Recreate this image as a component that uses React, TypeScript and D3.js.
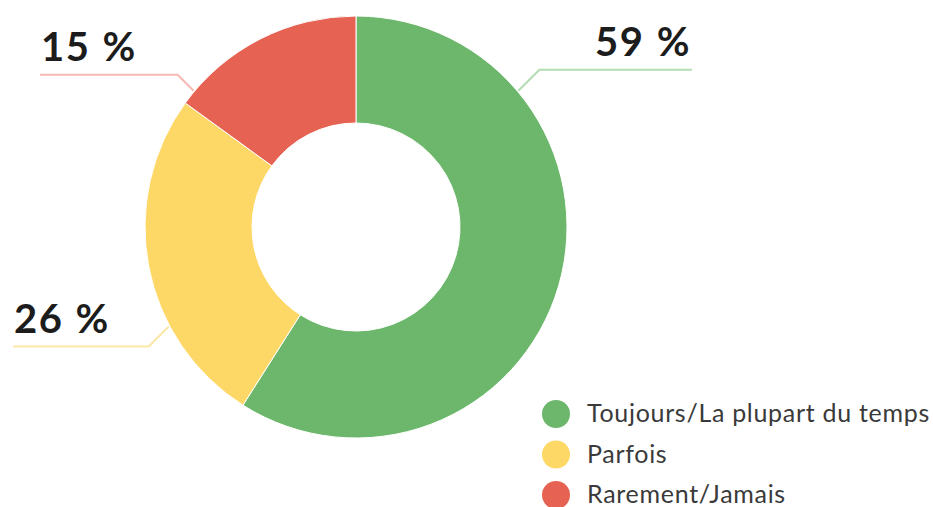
import React, { useRef, useEffect } from 'react';
import * as d3 from 'd3';

const categories = ['Toujours/La plupart du temps', 'Parfois', 'Rarement/Jamais'];
const values = [59, 26, 15];
const colors = ['#6cb76c', '#fdd867', '#e66353'];
const lineColors = ['#b3ddb3', '#fde7a6', '#f6b9b3'];
// angle (deg, clockwise from top) where each leader line touches the ring
const leaderAngles = [50, 242, 310];
const leaderEndX = [692, 13, 40];
const leaderDiag = [21, 20, 16];

const App = () => {
    const ref = useRef<SVGSVGElement>(null);

    useEffect(() => {
        const svg = d3.select(ref.current);
        svg.selectAll('*').remove();

        const width = 933, height = 507;
        const cx = 356, cy = 227;
        const outer = 211, inner = 104;

        const g = svg.append('g').attr('transform', `translate(${cx},${cy})`);

        const pie = d3.pie<number>().sort(null).value(d => d);
        const arc = d3.arc<d3.PieArcDatum<number>>().innerRadius(inner).outerRadius(outer);

        g.selectAll('path.slice')
            .data(pie(values))
            .enter()
            .append('path')
            .attr('class', 'slice')
            .attr('d', arc)
            .attr('fill', (d, i) => colors[i])
            .attr('stroke', '#fff')
            .attr('stroke-width', 1);

        // leader lines + labels
        values.forEach((v, i) => {
            const a = leaderAngles[i] * Math.PI / 180;
            const sx = Math.sin(a) * (outer + 1);
            const sy = -Math.cos(a) * (outer + 1);
            const dirX = Math.sin(a) > 0 ? 1 : -1;
            const dirY = Math.cos(a) > 0 ? -1 : 1;
            const ex = sx + dirX * leaderDiag[i];
            const ey = sy + dirY * leaderDiag[i];
            const endX = leaderEndX[i] - cx;

            g.append('path')
                .attr('d', `M${sx},${sy}L${ex},${ey}L${endX},${ey}`)
                .attr('fill', 'none')
                .attr('stroke', lineColors[i])
                .attr('stroke-width', 2);

            g.append('text')
                .attr('x', endX + (dirX > 0 ? -1 : 1))
                .attr('y', ey - 14)
                .attr('text-anchor', dirX > 0 ? 'end' : 'start')
                .style('font-family', 'Lato, sans-serif')
                .style('font-weight', 'bold')
                .style('font-size', '40px')
                .style('letter-spacing', '1.5px')
                .style('word-spacing', '1px')
                .attr('fill', '#1c1c1c')
                .text(`${v} %`);
        });

        // legend
        const legend = svg.append('g').attr('transform', 'translate(556,414)');
        const y = d3.scalePoint<string>().domain(categories).range([0, 81]);

        legend.selectAll('circle')
            .data(categories)
            .enter()
            .append('circle')
            .attr('cx', 0)
            .attr('cy', d => y(d)!)
            .attr('r', 14)
            .attr('fill', (d, i) => colors[i]);

        legend.selectAll('text')
            .data(categories)
            .enter()
            .append('text')
            .attr('x', 31)
            .attr('y', d => y(d)! + 8)
            .style('font-family', 'Lato, sans-serif')
            .style('font-size', '25px')
            .style('letter-spacing', '0.7px')
            .attr('fill', '#3a3a3a')
            .text(d => d);

        svg.attr('width', width).attr('height', height);
    }, []);

    return (
        <svg
            ref={ref}
            width={933}
            height={507}
            style={{ position: 'absolute', left: 0, top: 0, background: '#fff' }}
        />
    );
};

export default App;
